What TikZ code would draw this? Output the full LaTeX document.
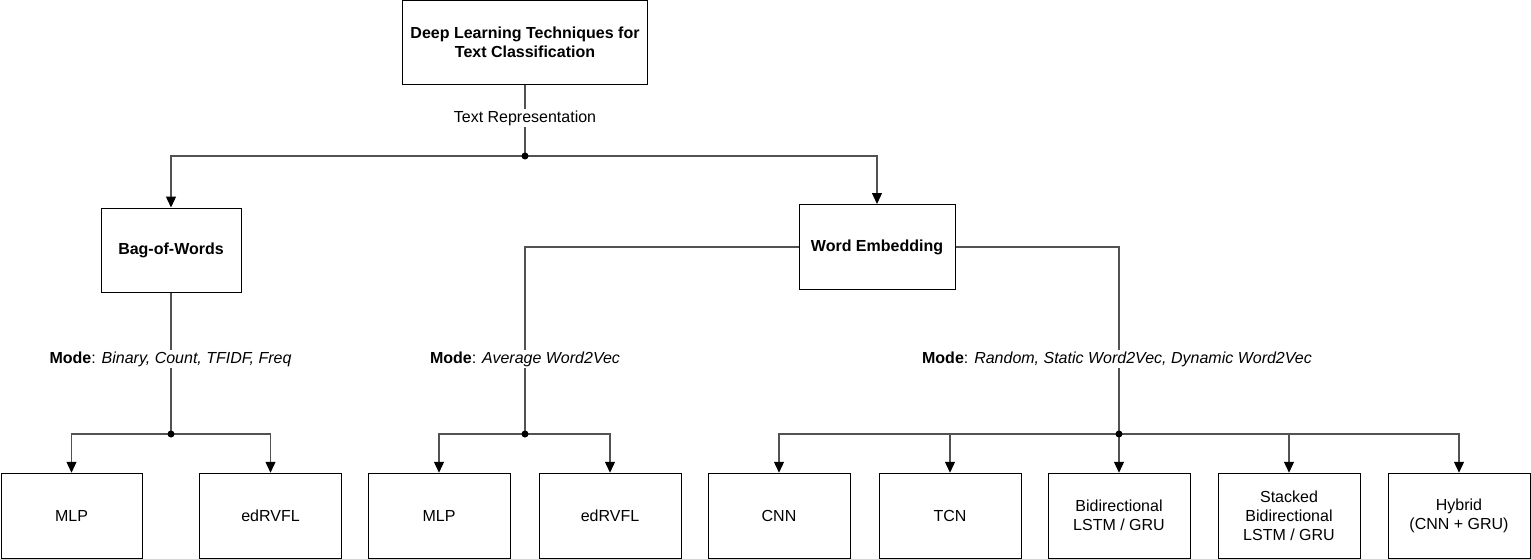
\documentclass[tikz,border=0pt]{standalone}
\usepackage{fontspec}
\setmainfont{Liberation Sans}
\usetikzlibrary{arrows.meta}
\begin{document}
\begin{tikzpicture}[x=1pt,y=-1pt,
  box/.style={draw=black,line width=1pt,minimum width=142pt,minimum height=85pt,align=center,inner sep=0pt,font=\fontsize{16}{19}\selectfont},
  boldbox/.style={box,font=\fontsize{16}{19}\selectfont\bfseries},
  conn/.style={draw=black!68,line width=1.3pt},
  arr/.style={conn,-{Triangle[width=10pt,length=11pt,color=black]}},
  dot/.style={circle,fill=black,inner sep=0pt,minimum size=7pt},
  lbl/.style={fill=white,inner sep=1.5pt,font=\fontsize{16}{19}\selectfont}]
\useasboundingbox (0,0) rectangle (1531,559);

% boxes
\node[boldbox,minimum width=245pt,minimum height=84.5pt] (root) at (525,42.75) {Deep Learning Techniques for\\Text Classification};
\node[boldbox,minimum width=140pt,minimum height=84pt] (bow) at (171,250) {Bag-of-Words};
\node[boldbox,minimum width=156pt,minimum height=85pt] (we) at (877,247) {Word Embedding};

\node[box,minimum width=141pt] (b1) at (71.5,515.75) {MLP};
\node[box] (b2) at (270.5,515.75) {edRVFL};
\node[box] (b3) at (439,515.75) {MLP};
\node[box] (b4) at (610,515.75) {edRVFL};
\node[box] (b5) at (779,515.75) {CNN};
\node[box] (b6) at (950,515.75) {TCN};
\node[box] (b7) at (1119,515.75) {Bidirectional\\LSTM / GRU};
\node[box] (b8) at (1289,515.75) {Stacked\\Bidirectional\\LSTM / GRU};
\node[box] (b9) at (1459,515.75) {Hybrid\\(CNN + GRU)};

% junctions
\coordinate (j0) at (525,156);
\coordinate (jb) at (171,434);
\coordinate (jw) at (525,434);
\coordinate (je) at (1119,434);

% connectors
\draw[conn] (root) -- (j0);
\draw[arr] (j0) -| (bow);
\draw[arr] (j0) -| (we);

\draw[conn] (bow) -- (jb);
\draw[arr] (jb) -| (b1);
\draw[arr] (jb) -| (b2);

\draw[conn] (we.west) -| (jw);
\draw[arr] (jw) -| (b3);
\draw[arr] (jw) -| (b4);

\draw[conn] (we.east) -| (je);
\draw[arr] (je) -| (b5);
\draw[arr] (je) -| (b6);
\draw[arr] (je) -- (b7);
\draw[arr] (je) -| (b8);
\draw[arr] (je) -| (b9);

% dots
\node[dot] (d0) at (j0) {};
\node[dot] (db) at (jb) {};
\node[dot] (dw) at (jw) {};
\node[dot] (de) at (je) {};

% labels
\node[lbl] (ltr) at (525,118) {Text Representation};
\node[lbl] (lm1) at (170.5,359) {\textbf{Mode}: \textit{Binary, Count, TFIDF, Freq}};
\node[lbl] (lm2) at (525,359) {\textbf{Mode}: \textit{Average Word2Vec}};
\node[lbl] (lm3) at (1117,359) {\textbf{Mode}: \textit{Random, Static Word2Vec, Dynamic Word2Vec}};
\end{tikzpicture}
\end{document}
